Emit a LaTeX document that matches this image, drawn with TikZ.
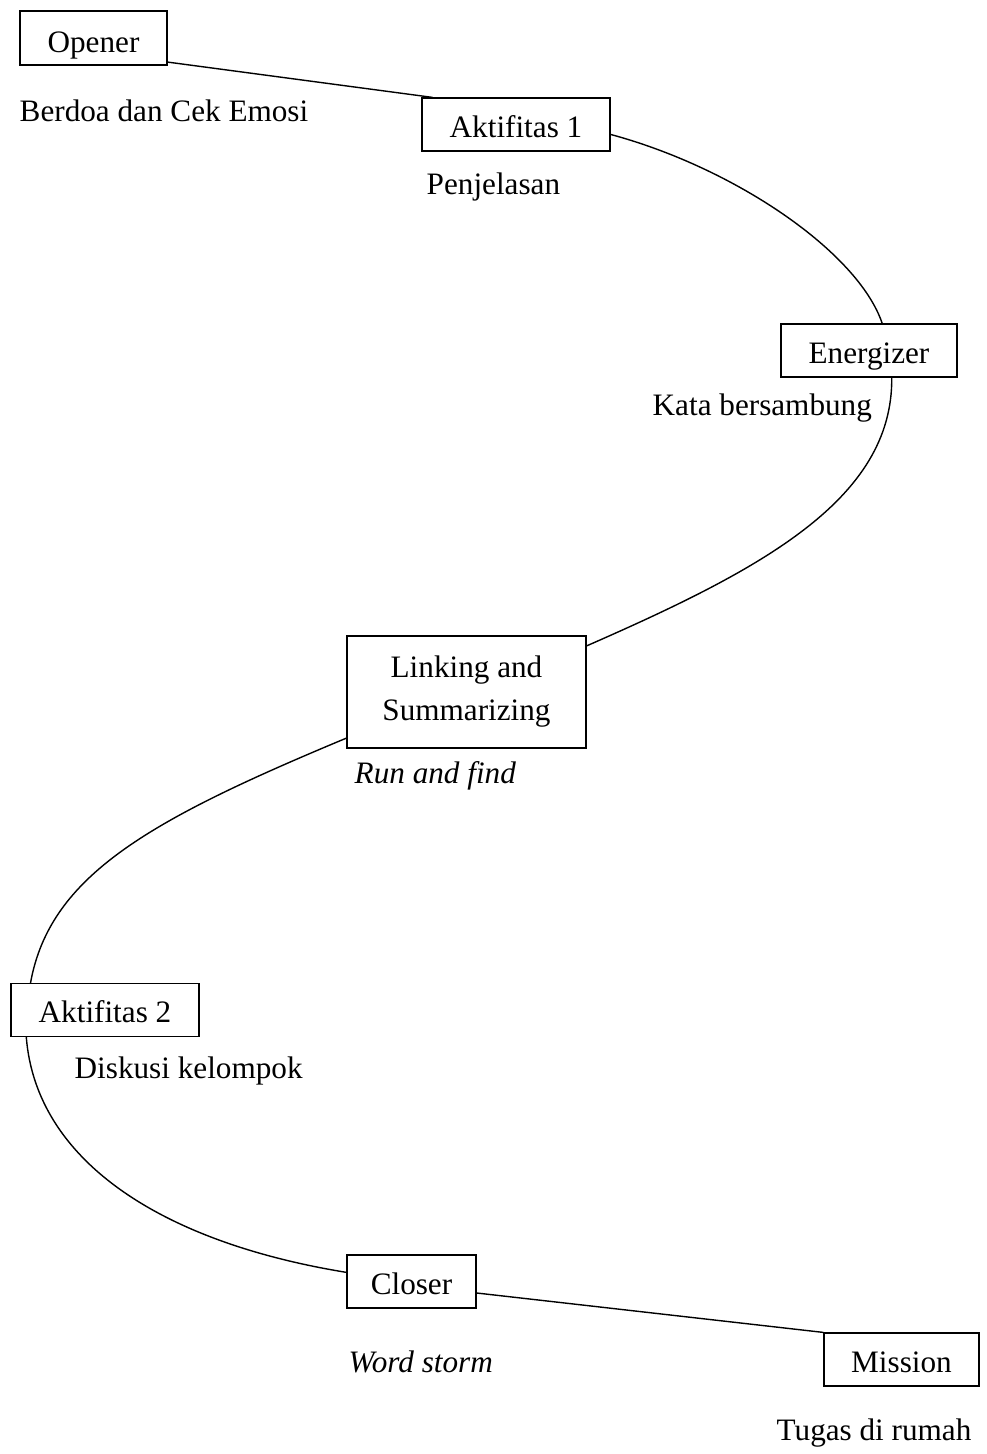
\documentclass[tikz,border=0pt]{standalone}
\usepackage{fontspec}
\setmainfont{Liberation Serif}
\usepackage{tikz}

\begin{document}
\begin{tikzpicture}[x=1pt,y=-1pt,line width=1.4pt,
  box/.style={draw, line width=1.2pt, inner sep=0pt, text height=39pt, text depth=14pt, font=\fontsize{31.2}{43}\selectfont},
  note/.style={inner sep=0pt, anchor=base west, font=\fontsize{31.2}{43}\selectfont}]

\useasboundingbox (0,0) rectangle (987,1454);

\node[box, minimum width=147pt, text height=41pt, text depth=13pt] (opener) at (93.5,38) {Opener};
\node[box, minimum width=188pt] (aktif1) at (516,124.5) {Aktifitas 1};
\node[box, minimum width=176pt] (energ) at (869,350.5) {Energizer};
\node[draw, line width=1.2pt, inner sep=0pt, minimum width=239pt, minimum height=112pt, align=center, font=\fontsize{31.2}{43}\selectfont] (linking) at (466.5,692) {Linking and\\Summarizing};
\node[box, minimum width=188pt] (aktif2) at (105,1010) {Aktifitas 2};
\node[box, minimum width=129pt] (closer) at (411.5,1281.5) {Closer};
\node[box, minimum width=155pt] (mission) at (901.5,1359.5) {Mission};

\node[note] (berdoa) at (19,121) {Berdoa dan Cek Emosi};
\node[note] (jelas) at (426,194) {Penjelasan};
\node[note] (kata) at (652,415) {Kata bersambung};
\node[note] (run) at (354,783) {\itshape Run and find};
\node[note] (diskusi) at (74,1078) {Diskusi kelompok};
\node[note] (storm) at (348,1372) {\itshape Word storm};
\node[note] (tugas) at (776,1440) {Tugas di rumah};

\draw (opener.-18) -- (aktif1.162);
\draw (aktif1.-6) .. controls (735,168) and (858,252) .. (energ.64);
\draw (energ.-50) .. controls (893,500) and (760,570) .. (linking.21);
\draw (linking.-159) .. controls (150,820) and (50,875) .. (aktif2.160);
\draw (aktif2.-161) .. controls (36,1160) and (160,1242) .. (closer.172);
\draw (closer.-10) -- (mission.north west);

\end{tikzpicture}
\end{document}
